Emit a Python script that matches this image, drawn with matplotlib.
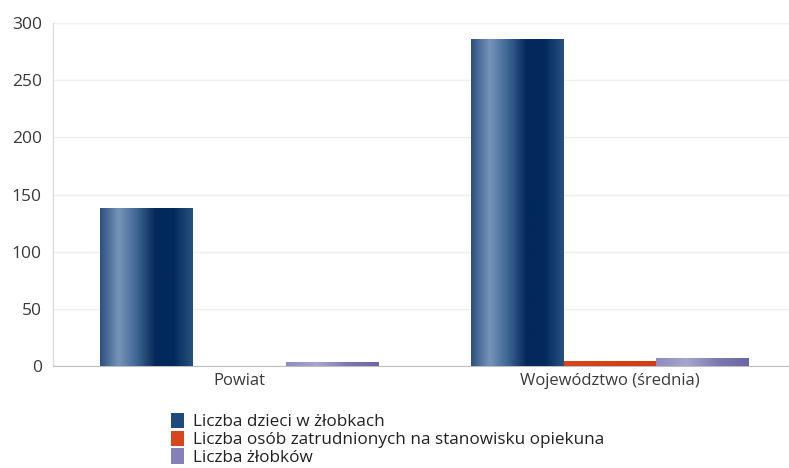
import numpy as np
import matplotlib
matplotlib.use("Agg")
import matplotlib.pyplot as plt
from matplotlib.colors import LinearSegmentedColormap
from matplotlib.patches import Patch

categories = ["Powiat", "Województwo (średnia)"]
series_names = [
    "Liczba dzieci w żłobkach",
    "Liczba osób zatrudnionych na stanowisku opiekuna",
    "Liczba żłobków",
]
dzieci = [138, 286]
opiekunowie = [0, 4]
zlobki = [3, 7]

plt.rcParams['font.family'] = ['Open Sans', 'DejaVu Sans']

blue_cmap = LinearSegmentedColormap.from_list(
    "blue", ["#2b5081", "#7594b9", "#3d6592", "#03285a", "#032a5c", "#27527f"])
orange_cmap = LinearSegmentedColormap.from_list("orange", ["#d8461d", "#cf3d14"])
purple_cmap = LinearSegmentedColormap.from_list(
    "purple", ["#8f8bbf", "#a8a5cf", "#7c78b0", "#6b67a3"])

fig = plt.figure(figsize=(7.89, 4.68), dpi=100)
ax = fig.add_axes([0.0672, 0.2186, 0.9328, 0.7316])

x = np.arange(len(categories))
width = 0.25
grad = np.linspace(0, 1, 256).reshape(1, -1)

for i, (vals, cmap) in enumerate([(dzieci, blue_cmap), (opiekunowie, orange_cmap), (zlobki, purple_cmap)]):
    bars = ax.bar(x + (i - 1) * width, vals, width, color="none", linewidth=0, zorder=2)
    for b in bars:
        h = b.get_height()
        if h <= 0:
            continue
        ax.imshow(grad, cmap=cmap, aspect="auto", zorder=3,
                  extent=[b.get_x(), b.get_x() + b.get_width(), 0, h])

ax.set_xlim(-0.503, 1.483)
ax.set_ylim(0, 300)
ax.set_yticks(range(0, 301, 50))
ax.set_xticks(x)
ax.set_xticklabels(categories)
ax.grid(axis="y", color="#efefef", linewidth=1, zorder=0)
ax.set_axisbelow(True)
for s in ["top", "right"]:
    ax.spines[s].set_visible(False)
ax.spines["left"].set_color("#d8d8d8")
ax.spines["bottom"].set_color("#bfbfbf")
ax.tick_params(axis="both", length=0, labelsize=12.5, colors="#3a3a3a")
ax.tick_params(axis="x", labelsize=12, pad=5)
ax.tick_params(axis="y", pad=8)

handles = [Patch(facecolor=c) for c in ["#1f4a7c", "#d8461d", "#8581b8"]]
fig.legend(handles, series_names, loc="upper left", bbox_to_anchor=(0.217, 0.118),
           frameon=False, fontsize=12.3, handlelength=0.75, handleheight=1.0,
           handletextpad=0.5, labelspacing=0.02, borderpad=0, borderaxespad=0,
           labelcolor="#222222")

fig.savefig("out.png", dpi=100)
